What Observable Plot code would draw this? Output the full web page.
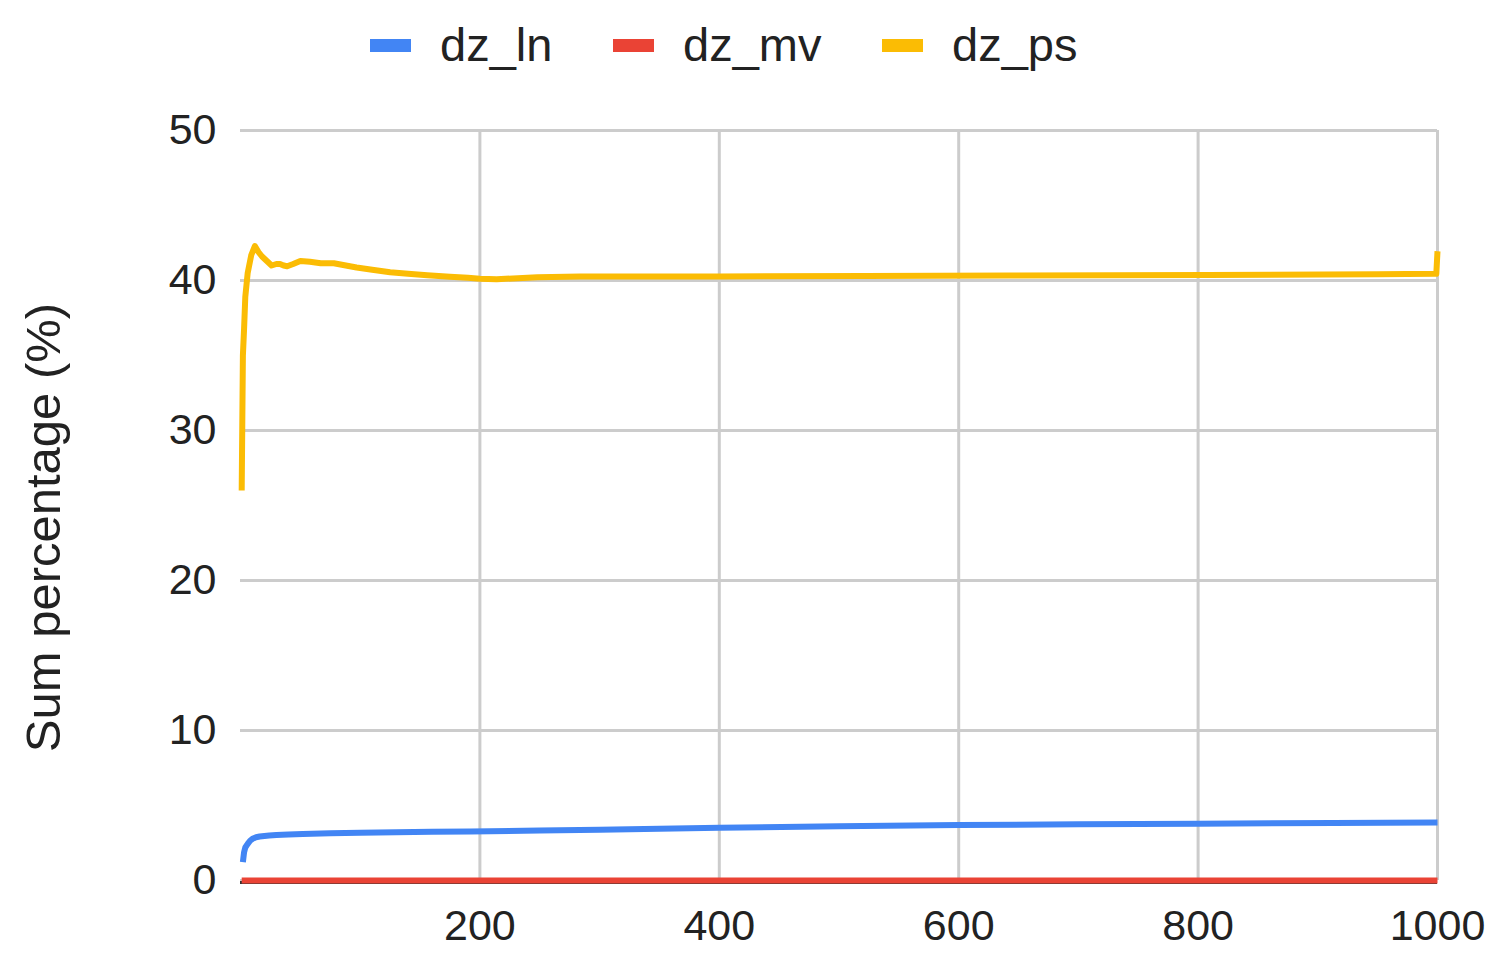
<!DOCTYPE html>
<html>
<head>
<meta charset="utf-8">
<script src="https://cdn.jsdelivr.net/npm/d3@7"></script>
<script src="https://cdn.jsdelivr.net/npm/@observablehq/plot@0.6"></script>
<style>
  html, body { margin: 0; padding: 0; background: #fff; }
  body { width: 1500px; height: 961px; overflow: hidden; font-family: "Liberation Sans", Arial, sans-serif; }
  #legend { height: 85px; position: relative; }
  .item { position: absolute; top: 17px; display: flex; align-items: center; font-size: 47px; color: #222; line-height: 56px; }
  .sw { width: 41px; height: 13px; margin-right: 29px; }
</style>
</head>
<body>
<div id="legend"></div>
<div id="chart"></div>
<script>
// Series names and colours
const seriesNames = ["dz_ln", "dz_mv", "dz_ps"];
const seriesColors = ["#4285F4", "#EA4335", "#FBBC04"];

// dz_ln (blue)
const lnX = [2, 3, 4, 6, 8, 10, 13, 16, 20, 24, 30, 40, 52, 75, 100, 130, 160, 192, 250, 300, 400, 500, 600, 700, 800, 913, 1000];
const lnY = [1.22, 1.89, 2.2, 2.44, 2.65, 2.78, 2.88, 2.93, 2.97, 3.0, 3.03, 3.06, 3.1, 3.15, 3.19, 3.22, 3.25, 3.27, 3.33, 3.38, 3.52, 3.62, 3.7, 3.75, 3.79, 3.84, 3.86];

// dz_mv (red)
const mvX = [1, 1000];
const mvY = [0, 0];

// dz_ps (yellow)
const psX = [1, 2, 3, 4, 6, 9, 12, 15, 18, 22, 26, 30, 33, 36, 39, 44, 50, 58, 67, 78, 88, 97, 110, 125, 140, 156, 175, 190, 200, 214, 248, 284, 400, 522, 643, 807, 950, 999, 1000];
const psY = [26.0, 35.0, 36.8, 38.9, 40.5, 41.7, 42.3, 41.9, 41.6, 41.3, 41.0, 41.1, 41.1, 41.0, 40.95, 41.1, 41.3, 41.25, 41.15, 41.15, 41.0, 40.87, 40.72, 40.55, 40.45, 40.35, 40.25, 40.18, 40.12, 40.08, 40.22, 40.27, 40.27, 40.3, 40.33, 40.36, 40.42, 40.45, 41.95];

// Axis ticks
const xTicks = [200, 400, 600, 800, 1000];
const yTicks = [0, 10, 20, 30, 40, 50];
const yLabel = "Sum percentage (%)";

// Legend (HTML)
const legend = document.getElementById("legend");
const legendLeft = [370, 613, 882];
seriesNames.forEach((n, i) => {
  const d = document.createElement("div");
  d.className = "item";
  d.style.left = legendLeft[i] + "px";
  d.innerHTML = `<span class="sw" style="background:${seriesColors[i]}"></span><span>${n}</span>`;
  legend.appendChild(d);
});

const rows = [
  ...lnX.map((x, i) => ({series: "dz_ln", x, y: lnY[i]})),
  ...mvX.map((x, i) => ({series: "dz_mv", x, y: mvY[i]})),
  ...psX.map((x, i) => ({series: "dz_ps", x, y: psY[i]}))
];

const chart = Plot.plot({
  width: 1500,
  height: 876,
  marginTop: 45,
  marginBottom: 81,
  marginLeft: 240,
  marginRight: 63,
  style: {fontFamily: "'Liberation Sans', Arial, sans-serif", fontSize: "43px", color: "#222", background: "#fff"},
  x: {domain: [0, 1000], ticks: xTicks},
  y: {domain: [0, 50], ticks: yTicks},
  color: {domain: seriesNames, range: seriesColors},
  marks: [
    Plot.gridY(yTicks, {stroke: "#cccccc", strokeOpacity: 1, strokeWidth: 3}),
    Plot.gridX(xTicks, {stroke: "#cccccc", strokeOpacity: 1, strokeWidth: 3}),
    Plot.axisX(xTicks, {tickSize: 0, tickPadding: 29, fontSize: 43, label: null, tickFormat: d => String(d)}),
    Plot.axisY(yTicks, {tickSize: 0, tickPadding: 24, fontSize: 43, label: null, tickFormat: d => String(d)}),
    Plot.ruleY([0], {stroke: "#333", strokeWidth: 3, dy: 2}),
    Plot.line(rows, {x: "x", y: "y", z: "series", stroke: "series", strokeWidth: 6, strokeLinejoin: "round", strokeLinecap: "butt"}),
    Plot.text([yLabel], {frameAnchor: "left", textAnchor: "middle", text: d => d, rotate: -90, dx: -196, dy: 22, fontSize: 49, fill: "#222"})
  ]
});
document.getElementById("chart").appendChild(chart);
</script>
</body>
</html>
